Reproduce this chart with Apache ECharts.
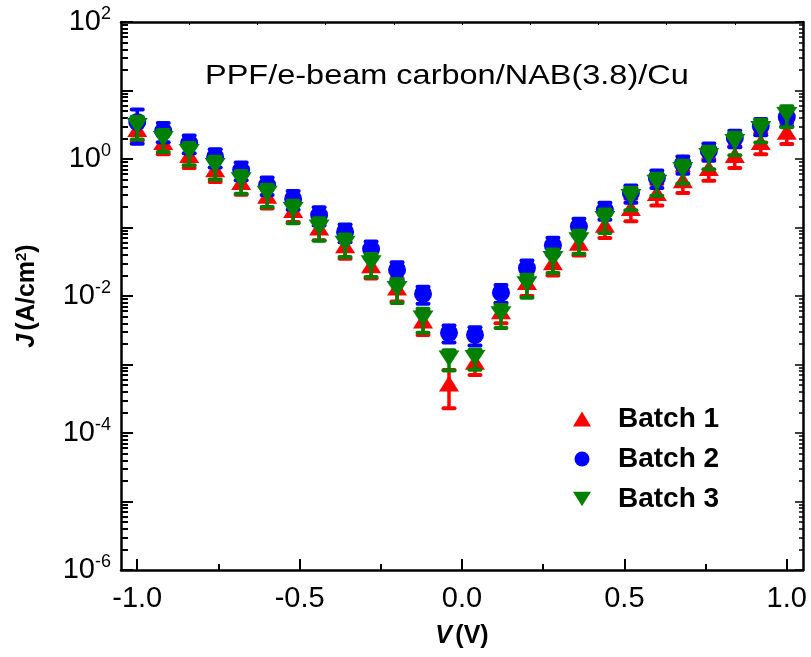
<!DOCTYPE html>
<html>
<head>
<meta charset="utf-8">
<script src="https://cdn.jsdelivr.net/npm/echarts@6/dist/echarts.min.js"></script>
<style>html,body{margin:0;padding:0;background:#fff}#c{width:811px;height:657px}</style>
</head>
<body>
<div id="c"></div>
<script>
// ---- data ----
const voltages = [-1.0,-0.92,-0.84,-0.76,-0.68,-0.60,-0.52,-0.44,-0.36,-0.28,-0.20,-0.12,-0.04,0.04,0.12,0.20,0.28,0.36,0.44,0.52,0.60,0.68,0.76,0.84,0.92,1.0];
const batch1 = [2.74,1.77,1.14,0.71,0.46,0.29,0.18,0.10,0.055,0.028,0.0133,0.0044,0.00053,0.0011,0.0060,0.016,0.031,0.060,0.11,0.193,0.32,0.49,0.74,1.14,1.77,2.5];
const batch1Err = [0.9,0.6,0.4,0.25,0.16,0.1,0.06,0.035,0.02,0.01,0.005,0.0017,0.0003,0.0004,0.002,0.006,0.011,0.021,0.04,0.07,0.11,0.17,0.26,0.4,0.6,0.85];
const batch2 = [3.47,2.56,1.71,1.07,0.69,0.417,0.261,0.152,0.086,0.0485,0.024,0.0107,0.0029,0.0027,0.0112,0.0256,0.055,0.104,0.18,0.319,0.528,0.85,1.31,2.03,3.03,4.1];
const batch2Err = [1.8,0.8,0.5,0.32,0.2,0.12,0.08,0.045,0.025,0.014,0.007,0.003,0.0008,0.0008,0.0033,0.0075,0.016,0.03,0.05,0.09,0.15,0.24,0.37,0.55,0.8,1.1];
const batch3 = [3.03,1.96,1.26,0.79,0.49,0.31,0.18,0.10,0.058,0.030,0.0127,0.0047,0.00122,0.00124,0.0054,0.0149,0.0346,0.0654,0.133,0.279,0.45,0.69,1.11,1.77,2.74,4.4];
const batch3Err = [1.1,0.7,0.45,0.29,0.18,0.11,0.065,0.036,0.021,0.011,0.0048,0.0018,0.0004,0.0004,0.002,0.0055,0.013,0.024,0.05,0.1,0.16,0.25,0.4,0.64,1.0,1.5];
const seriesNames = ['Batch 1','Batch 2','Batch 3'];
const xTickValues = [-1.0,-0.5,0.0,0.5,1.0];
const xMinorTickValues = [-0.75,-0.25,0.25,0.75];
const yLabelValues = [1e-6,1e-4,1e-2,1,1e2];
const yDecadeValues = [1e-6,1e-5,1e-4,1e-3,1e-2,1e-1,1,1e1,1e2];

// ---- helpers ----
const yMinorValues = [];
for (let e = -6; e < 2; e++) for (let m = 2; m <= 9; m++) yMinorValues.push(m * Math.pow(10, e));
const FONT = 'Liberation Sans, Arial, Helvetica, sans-serif';
const colors = ['#FF0000','#0000FF','#008000'];
const symbols = ['triangle','circle','path://M0,0 L20,0 L10,16 Z'];
const symSizes = [[20,16],18,[21,16]];
const vals = [batch1,batch2,batch3];
const errs = [batch1Err,batch2Err,batch3Err];

function errRender(color){
  return function(params, api){
    const x = api.value(0), v = api.value(1), s = api.value(2);
    const top = api.coord([x, v + s]);
    const bot = api.coord([x, v - s]);
    const hw = 5.5;
    const st = {stroke: color, lineWidth: 4, lineCap: 'round'};
    return {type:'group', children:[
      {type:'line', shape:{x1:top[0],y1:top[1],x2:bot[0],y2:bot[1]}, style:{stroke:color,lineWidth:3.5}},
      {type:'line', shape:{x1:top[0]-hw,y1:top[1],x2:top[0]+hw,y2:top[1]}, style:st},
      {type:'line', shape:{x1:bot[0]-hw,y1:bot[1],x2:bot[0]+hw,y2:bot[1]}, style:st}
    ]};
  };
}

const series = [];
for (let i = 0; i < 3; i++) {
  series.push({
    type:'custom', name: seriesNames[i], xAxisIndex:0, yAxisIndex:0, z: 2 + i*2,
    renderItem: errRender(colors[i]),
    data: voltages.map((x,k)=>[x, vals[i][k], errs[i][k]]),
    encode:{x:0, y:1}, silent:true
  });
  series.push({
    type:'scatter', name: seriesNames[i], xAxisIndex:0, yAxisIndex:0, z: 3 + i*2,
    symbol: symbols[i], symbolSize: symSizes[i],
    itemStyle:{color: colors[i], opacity:1},
    data: voltages.map((x,k)=>[x, vals[i][k]])
  });
}

const black = '#000';
const chart = echarts.init(document.getElementById('c'), null, {renderer:'canvas'});
chart.setOption({
  animation:false,
  backgroundColor:'#fff',
  grid:{left:121, right:8, top:22, bottom:87, containLabel:false},
  xAxis:[
    {type:'value', min:-1.05, max:1.05, position:'bottom',
     axisLine:{show:true, onZero:false, lineStyle:{color:black,width:2.5}},
     axisTick:{show:true, inside:true, length:11, lineStyle:{color:black,width:2}, customValues:xTickValues},
     axisLabel:{show:true, customValues:xTickValues, formatter:v=>v.toFixed(1), fontSize:29, fontFamily:FONT, color:black, margin:14},
     splitLine:{show:false},
     name:'{i|V} {b|(V)}', nameLocation:'middle', nameGap:54,
     nameTextStyle:{rich:{i:{fontSize:25,fontWeight:'bold',fontStyle:'italic',fontFamily:FONT,color:black},b:{fontSize:25,fontWeight:'bold',fontFamily:FONT,color:black}}}
    },
    {type:'value', min:-1.05, max:1.05, position:'bottom',
     axisLine:{show:false, onZero:false}, axisLabel:{show:false}, splitLine:{show:false},
     axisTick:{show:true, inside:true, length:6, lineStyle:{color:black,width:2}, customValues:xMinorTickValues}
    },
    {type:'value', min:0, max:10, interval:1, position:'top',
     axisLine:{show:true, onZero:false, lineStyle:{color:black,width:2.5}},
     axisTick:{show:true, inside:true, length:3, lineStyle:{color:black,width:1}},
     axisLabel:{show:false}, splitLine:{show:false}
    }
  ],
  yAxis:[
    {type:'log', logBase:10, min:1e-6, max:1e2, position:'left',
     axisLine:{show:true, onZero:false, lineStyle:{color:black,width:2.5}},
     axisTick:{show:true, inside:true, length:12, lineStyle:{color:black,width:2}, customValues:yDecadeValues},
     axisLabel:{show:true, customValues:yLabelValues, margin:10,
       formatter:function(v){const e=Math.round(Math.log10(v)); return '{b|10}{s|'+e+'}';},
       rich:{b:{fontSize:29,fontFamily:FONT,color:black}, s:{fontSize:18,fontFamily:FONT,color:black,padding:[0,0,16,0]}}},
     splitLine:{show:false},
     name:'{i|J} {b|(A/cm}{s|2}{b|)}', nameLocation:'middle', nameGap:80, nameRotate:90,
     nameTextStyle:{rich:{i:{fontSize:25,fontWeight:'bold',fontStyle:'italic',fontFamily:FONT,color:black},b:{fontSize:25,fontWeight:'bold',fontFamily:FONT,color:black},s:{fontSize:15,fontWeight:'bold',fontFamily:FONT,color:black,padding:[0,0,12,0]}}}
    },
    {type:'log', logBase:10, min:1e-6, max:1e2, position:'left',
     axisLine:{show:false, onZero:false}, axisLabel:{show:false}, splitLine:{show:false},
     axisTick:{show:true, inside:true, length:7, lineStyle:{color:black,width:2}, customValues:yMinorValues}
    },
    {type:'log', logBase:10, min:1e-6, max:1e2, position:'right',
     axisLine:{show:true, onZero:false, lineStyle:{color:black,width:2.5}},
     axisTick:{show:true, inside:true, length:8, lineStyle:{color:black,width:1.5}, customValues:yDecadeValues},
     axisLabel:{show:false}, splitLine:{show:false}
    },
    {type:'log', logBase:10, min:1e-6, max:1e2, position:'right',
     axisLine:{show:false, onZero:false}, axisLabel:{show:false}, splitLine:{show:false},
     axisTick:{show:true, inside:true, length:4, lineStyle:{color:black,width:1.5}, customValues:yMinorValues}
    }
  ],
  legend:{
    orient:'vertical', left:568, top:400, itemWidth:18, itemHeight:15, itemGap:12,
    data: seriesNames.map((n,i)=>({name:n, icon:symbols[i], itemStyle:{color:colors[i]}})),
    textStyle:{fontSize:28, fontWeight:'bold', fontFamily:FONT, color:black, padding:[0,0,0,22]},
    selectedMode:false
  },
  graphic:[
    {type:'text', left:205, top:62, style:{text:'PPF/e-beam carbon/NAB(3.8)/Cu', font:'28px '+FONT, fill:black}, scaleX:1.16}
  ],
  series: series
});
</script>
</body>
</html>
